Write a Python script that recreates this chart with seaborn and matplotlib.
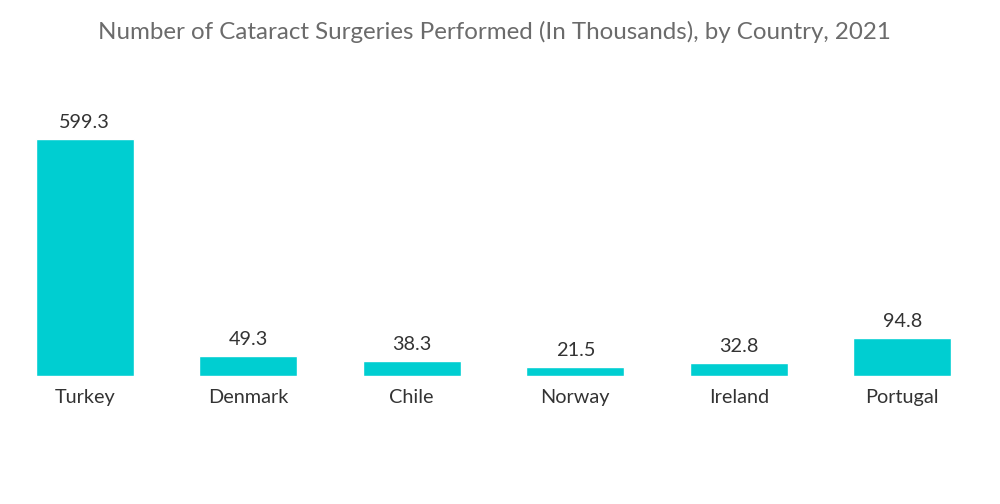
import matplotlib
matplotlib.use("Agg")
import matplotlib.pyplot as plt
import seaborn as sns
import pandas as pd

# Data
countries = ["Turkey", "Denmark", "Chile", "Norway", "Ireland", "Portugal"]
surgeries = [599.3, 49.3, 38.3, 21.5, 32.8, 94.8]

df = pd.DataFrame({"country": countries, "surgeries": surgeries})

sns.set_theme(style="white")
plt.rcParams["font.family"] = ["Lato", "DejaVu Sans"]

fig = plt.figure(figsize=(10, 5.04), dpi=100)
ax = fig.add_axes([0.003, 0.254, 0.981, 0.510])

sns.barplot(data=df, x="country", y="surgeries", color="#00CED1",
            saturation=1, width=0.6, ax=ax)

ax.set_ylim(0, 650)
ax.set_xlim(-0.5, 5.5)

# value labels
for cont in ax.containers:
    ax.bar_label(cont, labels=[f"{v:.1f}" for v in surgeries],
                 padding=6, fontsize=14.3, color="#333333")

ax.set_xlabel("")
ax.set_ylabel("")
ax.set_yticks([])
ax.tick_params(axis="x", length=0, pad=9.5, labelsize=14.3, labelcolor="#333333")
sns.despine(ax=ax, left=True, bottom=True)

fig.suptitle("Number of Cataract Surgeries Performed (In Thousands), by Country, 2021",
             x=0.494, y=0.958, fontsize=17.4, color="#6b6b6b")

plt.savefig("out.png", dpi=100)
